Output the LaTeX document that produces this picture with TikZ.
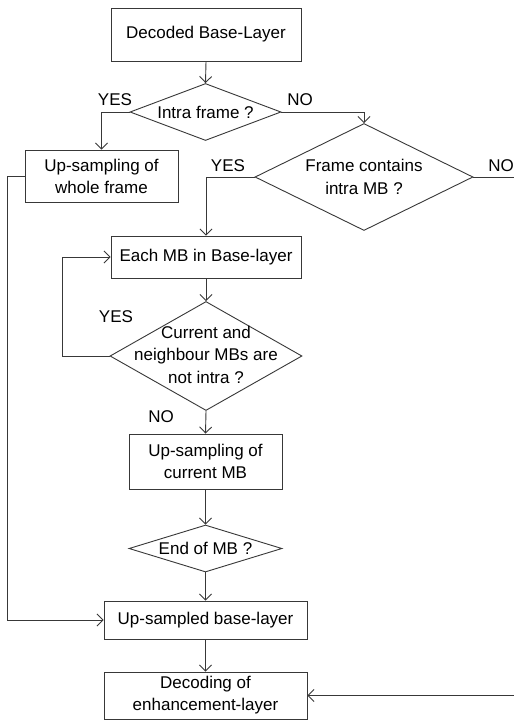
\documentclass[tikz,border=0pt]{standalone}
\usepackage{fontspec}
\setmainfont{Liberation Sans}
\usetikzlibrary{arrows.meta,shapes.geometric}
\begin{document}
\begin{tikzpicture}[x=1pt,y=-1pt,
  ln/.style={draw=black!78,line width=0.9pt},
  arr/.style={ln,-{Straight Barb[length=6pt,width=12pt]}},
  box/.style={ln,rectangle,inner sep=0pt,align=center,font=\fontsize{17}{22}\selectfont},
  dia/.style={ln,diamond,inner sep=0pt},
  dtext/.style={align=center,font=\fontsize{17}{22.5}\selectfont,inner sep=0pt},
  lab/.style={font=\fontsize{17}{20}\selectfont,inner sep=0pt}]
\useasboundingbox (0,0) rectangle (514,721);
\fill[white] (0,0) rectangle (514,721);
% boxes
\node[box,minimum width=190pt,minimum height=53pt] (b1) at (206,34.5) {Decoded Base-Layer};
\node[dia,minimum width=151pt,minimum height=57pt] (d1) at (205.5,112) {};
\node[dtext] (t1) at (d1) {Intra frame ?};
\node[box,minimum width=153pt,minimum height=52pt] (b2) at (101.5,176) {Up-sampling of\\whole frame};
\node[dia,minimum width=218pt,minimum height=107pt] (d2) at (364,177) {};
\node[dtext] (t2) at (d2) {Frame contains\\intra MB ?};
\node[box,minimum width=190pt,minimum height=42pt] (b3) at (206,257) {Each MB in Base-layer};
\node[dia,minimum width=192pt,minimum height=109pt] (d3) at (206,356) {};
\node[dtext] (t3) at (206,354.5) {Current and\\neighbour MBs are\\not intra ?};
\node[box,minimum width=153pt,minimum height=55pt] (b4) at (205.5,461.5) {Up-sampling of\\current MB};
\node[dia,minimum width=153pt,minimum height=47pt] (d4) at (205.5,548.5) {};
\node[dtext] (t4) at (d4) {End of MB ?};
\node[box,minimum width=203pt,minimum height=38pt] (b5) at (205.5,620) {Up-sampled base-layer};
\node[box,minimum width=203pt,minimum height=47pt] (b6) at (205.5,695.5) {Decoding of\\enhancement-layer};
% labels
\node[lab] (y1) at (115,100) {YES};
\node[lab] (n1) at (300,100) {NO};
\node[lab] (y2) at (228,166) {YES};
\node[lab] (n2) at (501,166) {NO};
\node[lab] (y3) at (116,317) {YES};
\node[lab] (n3) at (161,417) {NO};
% free ends
\coordinate (e1) at (514,177);
\coordinate (e2) at (514,695.5);
% connectors
\draw[arr] (b1.south) -- (d1.north);
\draw[arr] (d1.west) -| (b2.north);
\draw[arr] (d1.east) -| (d2.north);
\draw[arr] (d2.west) -| (b3.north);
\draw[ln] (d2.east) -- (e1);
\draw[arr] (b3.south) -- (d3.north);
\draw[arr] (d3.west) -- ++(-47,0) |- (b3.west);
\draw[arr] (d3.south) -- (b4.north);
\draw[arr] (b4.south) -- (d4.north);
\draw[arr] (d4.south) -- (b5.north);
\draw[arr] (b2.west) -- ++(-17,0) |- (b5.west);
\draw[arr] (b5.south) -- (b6.north);
\draw[arr] (e2) -- (b6.east);
\end{tikzpicture}
\end{document}
